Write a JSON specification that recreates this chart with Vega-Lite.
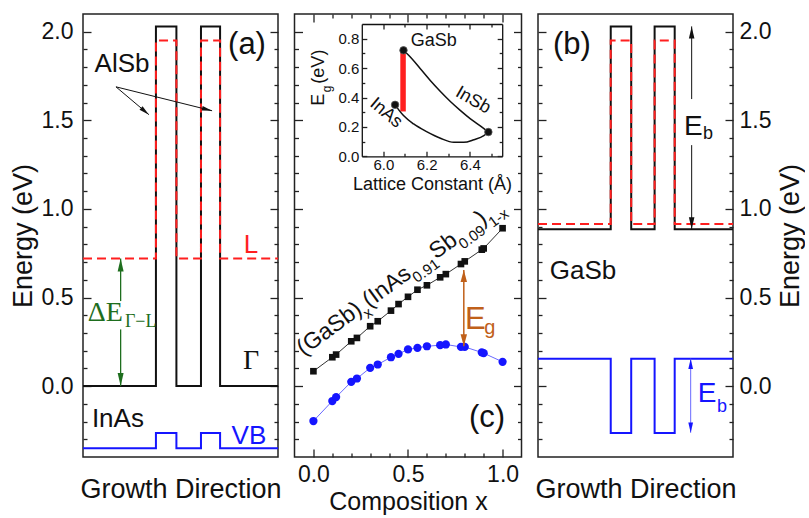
{
"$schema":"https://vega.github.io/schema/vega-lite/v6.json",
"background":"white",
"padding":{"left":8,"top":12,"right":0,"bottom":0},
"bounds":"flush",
"spacing":16.5,
"config":{
 "font":"Liberation Sans",
 "view":{"stroke":"#222","strokeWidth":1.5},
 "axis":{"domain":false,"grid":false,"tickColor":"#222","tickWidth":1.3,"labelColor":"#111","titleColor":"#111","titleFontWeight":"normal","labelOverlap":false,"labelFlush":false,"labelFont":"Liberation Sans","titleFont":"Liberation Sans"}
},
"hconcat":[
{
"width":195,"height":443,
"data":{"values":[
{"s":"G","i":0,"x":0,"y":0},{"s":"G","i":1,"x":37.4,"y":0},{"s":"G","i":2,"x":37.4,"y":2.03},{"s":"G","i":3,"x":47.9,"y":2.03},{"s":"G","i":4,"x":47.9,"y":0},{"s":"G","i":5,"x":60.5,"y":0},{"s":"G","i":6,"x":60.5,"y":2.03},{"s":"G","i":7,"x":70.3,"y":2.03},{"s":"G","i":8,"x":70.3,"y":0},{"s":"G","i":9,"x":100,"y":0},
{"s":"L","i":0,"x":0,"y":0.72},{"s":"L","i":1,"x":37.4,"y":0.72},{"s":"L","i":2,"x":37.4,"y":1.95},{"s":"L","i":3,"x":47.9,"y":1.95},{"s":"L","i":4,"x":47.9,"y":0.72},{"s":"L","i":5,"x":60.5,"y":0.72},{"s":"L","i":6,"x":60.5,"y":1.95},{"s":"L","i":7,"x":70.3,"y":1.95},{"s":"L","i":8,"x":70.3,"y":0.72},{"s":"L","i":9,"x":100,"y":0.72},
{"s":"V","i":0,"x":0,"y":-0.35},{"s":"V","i":1,"x":37.4,"y":-0.35},{"s":"V","i":2,"x":37.4,"y":-0.265},{"s":"V","i":3,"x":47.9,"y":-0.265},{"s":"V","i":4,"x":47.9,"y":-0.35},{"s":"V","i":5,"x":60.5,"y":-0.35},{"s":"V","i":6,"x":60.5,"y":-0.265},{"s":"V","i":7,"x":70.3,"y":-0.265},{"s":"V","i":8,"x":70.3,"y":-0.35},{"s":"V","i":9,"x":100,"y":-0.35}
]},
"resolve":{"axis":{"x":"independent","y":"independent"}},
"layer":[
 {"transform":[{"filter":"datum.s==='G'"}],
  "mark":{"type":"line","color":"#111","strokeWidth":2},
  "encoding":{
   "x":{"field":"x","type":"quantitative","scale":{"domain":[0,100],"nice":false,"zero":false},"axis":{"orient":"bottom","ticks":false,"labels":false,"title":"Growth Direction","titleFontSize":27,"titlePadding":19}},
   "y":{"field":"y","type":"quantitative","scale":{"domain":[-0.4,2.1],"nice":false,"zero":false},"axis":{"orient":"left","values":[-0.3,-0.2,-0.1,0,0.1,0.2,0.3,0.4,0.5,0.6,0.7,0.8,0.9,1,1.1,1.2,1.3,1.4,1.5,1.6,1.7,1.8,1.9,2],"format":".1f","labelExpr":"abs(datum.value*2-round(datum.value*2))<0.01 ? datum.label : ''","tickSize":{"condition":{"test":"abs(datum.value*2-round(datum.value*2))<0.01","value":-8},"value":-4},"labelPadding":18,"labelFontSize":23,"title":"Energy (eV)","titleFontSize":27,"titlePadding":4}},
   "order":{"field":"i","type":"quantitative"}}},
 {"transform":[{"filter":"datum.s==='L'"}],
  "mark":{"type":"line","color":"#ff1f1f","strokeWidth":2,"strokeDash":[9,5]},
  "encoding":{
   "x":{"field":"x","type":"quantitative","scale":{"domain":[0,100],"nice":false,"zero":false},"axis":null},
   "y":{"field":"y","type":"quantitative","scale":{"domain":[-0.4,2.1],"nice":false,"zero":false},"axis":{"orient":"right","values":[-0.3,-0.2,-0.1,0,0.1,0.2,0.3,0.4,0.5,0.6,0.7,0.8,0.9,1,1.1,1.2,1.3,1.4,1.5,1.6,1.7,1.8,1.9,2],"labels":false,"tickSize":{"condition":{"test":"abs(datum.value*2-round(datum.value*2))<0.01","value":-8},"value":-4},"title":null}},
   "order":{"field":"i","type":"quantitative"}}},
 {"transform":[{"filter":"datum.s==='V'"}],
  "mark":{"type":"line","color":"#1515ff","strokeWidth":2},
  "encoding":{
   "x":{"field":"x","type":"quantitative","scale":{"domain":[0,100],"nice":false,"zero":false},"axis":null},
   "y":{"field":"y","type":"quantitative","scale":{"domain":[-0.4,2.1],"nice":false,"zero":false},"axis":null},
   "order":{"field":"i","type":"quantitative"}}},
 {"data":{"values":[{"x":16.9,"y":1.689,"x2":33.8,"y2":1.532},{"x":16.9,"y":1.689,"x2":66.2,"y2":1.554}]},
  "mark":{"type":"rule","color":"#111","strokeWidth":1},
  "encoding":{"x":{"field":"x","type":"quantitative","axis":null},"y":{"field":"y","type":"quantitative","axis":null},"x2":{"field":"x2"},"y2":{"field":"y2"}}},
 {"data":{"values":[{"x":33.8,"y":1.532}]},
  "mark":{"type":"point","shape":"M0,0L-0.3,1.3L0.3,1.3Z","filled":true,"size":250,"angle":130,"color":"#111","opacity":1,"strokeWidth":0},
  "encoding":{"x":{"field":"x","type":"quantitative","axis":null},"y":{"field":"y","type":"quantitative","axis":null}}},
 {"data":{"values":[{"x":66.2,"y":1.554}]},
  "mark":{"type":"point","shape":"M0,0L-0.3,1.3L0.3,1.3Z","filled":true,"size":250,"angle":104,"color":"#111","opacity":1,"strokeWidth":0},
  "encoding":{"x":{"field":"x","type":"quantitative","axis":null},"y":{"field":"y","type":"quantitative","axis":null}}},
 {"data":{"values":[{"x":19.3,"y":0.48,"y2":0.72},{"x":19.3,"y":0.32,"y2":0}]},
  "mark":{"type":"rule","color":"#1e6e1e","strokeWidth":1.3},
  "encoding":{"x":{"field":"x","type":"quantitative","axis":null},"y":{"field":"y","type":"quantitative","axis":null},"y2":{"field":"y2"}}},
 {"data":{"values":[{"x":19.3,"y":0.72}]},
  "mark":{"type":"point","shape":"M0,0L-0.3,1.3L0.3,1.3Z","filled":true,"size":400,"angle":0,"color":"#1e6e1e","opacity":1,"strokeWidth":0},
  "encoding":{"x":{"field":"x","type":"quantitative","axis":null},"y":{"field":"y","type":"quantitative","axis":null}}},
 {"data":{"values":[{"x":19.3,"y":0}]},
  "mark":{"type":"point","shape":"M0,0L-0.3,1.3L0.3,1.3Z","filled":true,"size":400,"angle":180,"color":"#1e6e1e","opacity":1,"strokeWidth":0},
  "encoding":{"x":{"field":"x","type":"quantitative","axis":null},"y":{"field":"y","type":"quantitative","axis":null}}},
 {"data":{"values":[{"x":20,"y":1.819,"t":"AlSb"},{"x":17.9,"y":-0.186,"t":"InAs"}]},
  "mark":{"type":"text","fontSize":26,"color":"#111"},
  "encoding":{"x":{"field":"x","type":"quantitative","axis":null},"y":{"field":"y","type":"quantitative","axis":null},"text":{"field":"t","type":"nominal"}}},
 {"data":{"values":[{"x":84.1,"y":1.926,"t":"(a)"}]},
  "mark":{"type":"text","fontSize":31,"color":"#111"},
  "encoding":{"x":{"field":"x","type":"quantitative","axis":null},"y":{"field":"y","type":"quantitative","axis":null},"text":{"field":"t","type":"nominal"}}},
 {"data":{"values":[{"x":86.2,"y":0.794,"t":"L"}]},
  "mark":{"type":"text","fontSize":26,"color":"#ff1f1f"},
  "encoding":{"x":{"field":"x","type":"quantitative","axis":null},"y":{"field":"y","type":"quantitative","axis":null},"text":{"field":"t","type":"nominal"}}},
 {"data":{"values":[{"x":85.1,"y":-0.282,"t":"VB"}]},
  "mark":{"type":"text","fontSize":26,"color":"#1515ff"},
  "encoding":{"x":{"field":"x","type":"quantitative","axis":null},"y":{"field":"y","type":"quantitative","axis":null},"text":{"field":"t","type":"nominal"}}},
 {"data":{"values":[{"x":86.2,"y":0.141,"t":"Γ"}]},
  "mark":{"type":"text","fontSize":28,"font":"Liberation Serif","color":"#111"},
  "encoding":{"x":{"field":"x","type":"quantitative","axis":null},"y":{"field":"y","type":"quantitative","axis":null},"text":{"field":"t","type":"nominal"}}},
 {"data":{"values":[{"x":11.4,"y":0.411,"t":"ΔE"}]},
  "mark":{"type":"text","fontSize":28,"font":"Liberation Serif","color":"#1e6e1e"},
  "encoding":{"x":{"field":"x","type":"quantitative","axis":null},"y":{"field":"y","type":"quantitative","axis":null},"text":{"field":"t","type":"nominal"}}},
 {"data":{"values":[{"x":29.6,"y":0.364,"t":"Γ−L"}]},
  "mark":{"type":"text","fontSize":18,"font":"Liberation Serif","color":"#1e6e1e"},
  "encoding":{"x":{"field":"x","type":"quantitative","axis":null},"y":{"field":"y","type":"quantitative","axis":null},"text":{"field":"t","type":"nominal"}}}
]
},
{
"width":227,"height":443,
"resolve":{"scale":{"x":"independent","y":"independent"},"axis":{"x":"independent","y":"independent"}},
"layer":[
 {
 "data":{"values":[
 {"s":"k","x":0,"y":0.084},{"s":"k","x":0.1,"y":0.163},{"s":"k","x":0.12,"y":0.178},{"s":"k","x":0.2,"y":0.253},{"s":"k","x":0.23,"y":0.272},{"s":"k","x":0.3,"y":0.338},{"s":"k","x":0.34,"y":0.366},{"s":"k","x":0.41,"y":0.426},{"s":"k","x":0.45,"y":0.463},{"s":"k","x":0.5,"y":0.504},{"s":"k","x":0.55,"y":0.544},{"s":"k","x":0.6,"y":0.569},{"s":"k","x":0.67,"y":0.614},{"s":"k","x":0.7,"y":0.632},{"s":"k","x":0.78,"y":0.689},{"s":"k","x":0.8,"y":0.704},{"s":"k","x":0.89,"y":0.77},{"s":"k","x":0.9,"y":0.777},{"s":"k","x":1,"y":0.891},
 {"s":"b","x":0,"y":-0.197},{"s":"b","x":0.1,"y":-0.084},{"s":"b","x":0.12,"y":-0.062},{"s":"b","x":0.2,"y":0.024},{"s":"b","x":0.23,"y":0.043},{"s":"b","x":0.3,"y":0.103},{"s":"b","x":0.34,"y":0.122},{"s":"b","x":0.41,"y":0.163},{"s":"b","x":0.45,"y":0.182},{"s":"b","x":0.5,"y":0.207},{"s":"b","x":0.55,"y":0.216},{"s":"b","x":0.6,"y":0.225},{"s":"b","x":0.67,"y":0.231},{"s":"b","x":0.7,"y":0.235},{"s":"b","x":0.78,"y":0.221},{"s":"b","x":0.8,"y":0.221},{"s":"b","x":0.89,"y":0.19},{"s":"b","x":0.9,"y":0.186},{"s":"b","x":1,"y":0.137}
 ]},
 "resolve":{"axis":{"x":"independent","y":"independent"}},
 "layer":[
  {"transform":[{"filter":"datum.s==='k'"}],
   "mark":{"type":"line","color":"#333","strokeWidth":1},
   "encoding":{
    "x":{"field":"x","type":"quantitative","scale":{"domain":[-0.1,1.1],"nice":false,"zero":false},"axis":{"orient":"bottom","values":[0,0.1,0.2,0.3,0.4,0.5,0.6,0.7,0.8,0.9,1],"format":".1f","labelExpr":"abs(datum.value*2-round(datum.value*2))<0.01 ? datum.label : ''","tickSize":{"condition":{"test":"abs(datum.value*2-round(datum.value*2))<0.01","value":-8},"value":-4},"labelPadding":14,"labelFontSize":23,"title":"Composition x","titleFontSize":25,"titlePadding":-1}},
    "y":{"field":"y","type":"quantitative","scale":{"domain":[-0.4,2.1],"nice":false,"zero":false},"axis":{"orient":"left","values":[-0.3,-0.2,-0.1,0,0.1,0.2,0.3,0.4,0.5,0.6,0.7,0.8,0.9,1,1.1,1.2,1.3,1.4,1.5,1.6,1.7,1.8,1.9,2],"labels":false,"tickSize":{"condition":{"test":"abs(datum.value*2-round(datum.value*2))<0.01","value":-8},"value":-4},"title":null}}}},
  {"transform":[{"filter":"datum.s==='b'"}],
   "mark":{"type":"line","color":"#6a6aff","strokeWidth":1},
   "encoding":{
    "x":{"field":"x","type":"quantitative","scale":{"domain":[-0.1,1.1],"nice":false,"zero":false},"axis":{"orient":"top","values":[0,0.1,0.2,0.3,0.4,0.5,0.6,0.7,0.8,0.9,1],"labels":false,"tickSize":{"condition":{"test":"abs(datum.value*2-round(datum.value*2))<0.01","value":-8},"value":-4},"title":null}},
    "y":{"field":"y","type":"quantitative","scale":{"domain":[-0.4,2.1],"nice":false,"zero":false},"axis":{"orient":"right","values":[-0.3,-0.2,-0.1,0,0.1,0.2,0.3,0.4,0.5,0.6,0.7,0.8,0.9,1,1.1,1.2,1.3,1.4,1.5,1.6,1.7,1.8,1.9,2],"labels":false,"tickSize":{"condition":{"test":"abs(datum.value*2-round(datum.value*2))<0.01","value":-8},"value":-4},"title":null}}}},
  {"transform":[{"filter":"datum.s==='k'"}],
   "mark":{"type":"square","size":44,"color":"#111","opacity":1},
   "encoding":{"x":{"field":"x","type":"quantitative","axis":null},"y":{"field":"y","type":"quantitative","axis":null}}},
  {"transform":[{"filter":"datum.s==='b'"}],
   "mark":{"type":"circle","size":68,"color":"#1515ff","opacity":1},
   "encoding":{"x":{"field":"x","type":"quantitative","axis":null},"y":{"field":"y","type":"quantitative","axis":null}}},
  {"data":{"values":[{"x":0.795,"y":0.655,"y2":0.225}]},
   "mark":{"type":"rule","color":"#c0601a","strokeWidth":1.5},
   "encoding":{"x":{"field":"x","type":"quantitative","axis":null},"y":{"field":"y","type":"quantitative","axis":null},"y2":{"field":"y2"}}},
  {"data":{"values":[{"x":0.795,"y":0.655}]},
   "mark":{"type":"point","shape":"M0,0L-0.35,1.3L0.35,1.3Z","filled":true,"size":340,"angle":0,"color":"#c0601a","opacity":1,"strokeWidth":0},
   "encoding":{"x":{"field":"x","type":"quantitative","axis":null},"y":{"field":"y","type":"quantitative","axis":null}}},
  {"data":{"values":[{"x":0.795,"y":0.225}]},
   "mark":{"type":"point","shape":"M0,0L-0.35,1.3L0.35,1.3Z","filled":true,"size":340,"angle":180,"color":"#c0601a","opacity":1,"strokeWidth":0},
   "encoding":{"x":{"field":"x","type":"quantitative","axis":null},"y":{"field":"y","type":"quantitative","axis":null}}},
  {"data":{"values":[{"x":0.856,"y":0.375,"t":"E"}]},
   "mark":{"type":"text","fontSize":31,"color":"#c0601a"},
   "encoding":{"x":{"field":"x","type":"quantitative","axis":null},"y":{"field":"y","type":"quantitative","axis":null},"text":{"field":"t","type":"nominal"}}},
  {"data":{"values":[{"x":0.932,"y":0.328,"t":"g"}]},
   "mark":{"type":"text","fontSize":20,"color":"#c0601a"},
   "encoding":{"x":{"field":"x","type":"quantitative","axis":null},"y":{"field":"y","type":"quantitative","axis":null},"text":{"field":"t","type":"nominal"}}},
  {"data":{"values":[{"x":0.918,"y":-0.18,"t":"(c)"}]},
   "mark":{"type":"text","fontSize":31,"color":"#111"},
   "encoding":{"x":{"field":"x","type":"quantitative","axis":null},"y":{"field":"y","type":"quantitative","axis":null},"text":{"field":"t","type":"nominal"}}},
  {"data":{"values":[{"x":-0.0526,"y":0.169,"t":"(GaSb)"},{"x":0.295,"y":0.439,"t":"(InAs"},{"x":0.648,"y":0.713,"t":"Sb"},{"x":0.892,"y":0.903,"t":")"}]},
   "mark":{"type":"text","fontSize":23,"angle":324,"align":"left","baseline":"alphabetic","color":"#111"},
   "encoding":{"x":{"field":"x","type":"quantitative","axis":null},"y":{"field":"y","type":"quantitative","axis":null},"text":{"field":"t","type":"nominal"}}},
  {"data":{"values":[{"x":0.287,"y":0.378,"t":"x"},{"x":0.548,"y":0.58,"t":"0.91"},{"x":0.792,"y":0.77,"t":"0.09"},{"x":0.949,"y":0.892,"t":"1-x"}]},
   "mark":{"type":"text","fontSize":15,"angle":324,"align":"left","baseline":"alphabetic","color":"#111"},
   "encoding":{"x":{"field":"x","type":"quantitative","axis":null},"y":{"field":"y","type":"quantitative","axis":null},"text":{"field":"t","type":"nominal"}}}
 ]},
 {
 "resolve":{"axis":{"x":"independent","y":"independent"}},
 "layer":[
  {"data":{"values":[{"x":6.091,"y":0.305,"y2":0.72}]},
   "mark":{"type":"rule","color":"#ff1f1f","strokeWidth":5.5},
   "encoding":{
    "x":{"field":"x","type":"quantitative","scale":{"domain":[5.9,6.55],"nice":false,"zero":false,"range":[67.3,207.7]},"axis":{"orient":"bottom","offset":-300.7,"values":[6,6.1,6.2,6.3,6.4,6.5],"format":".1f","labelExpr":"abs(datum.value*5-round(datum.value*5))<0.01 ? datum.label : ''","tickSize":{"condition":{"test":"abs(datum.value*5-round(datum.value*5))<0.01","value":-5},"value":-3},"labelPadding":6,"labelFontSize":15,"title":"Lattice Constant (Å)","titleFontSize":18,"titlePadding":1,"domain":true,"domainColor":"#111","domainWidth":1.3}},
    "y":{"field":"y","type":"quantitative","scale":{"domain":[0,0.9],"nice":false,"zero":false,"range":[142.3,10]},"axis":{"orient":"left","offset":-67.3,"values":[0,0.1,0.2,0.3,0.4,0.5,0.6,0.7,0.8],"format":".1f","labelExpr":"abs(datum.value*5-round(datum.value*5))<0.01 ? datum.label : ''","tickSize":{"condition":{"test":"abs(datum.value*5-round(datum.value*5))<0.01","value":-5},"value":-3},"labelPadding":8,"labelFontSize":15,"title":null,"domain":true,"domainColor":"#111","domainWidth":1.3}},
    "y2":{"field":"y2"}}},
  {"data":{"values":[{"x":6.093,"y":0.721},{"x":6.132,"y":0.664},{"x":6.171,"y":0.596},{"x":6.217,"y":0.516},{"x":6.264,"y":0.441},{"x":6.31,"y":0.373},{"x":6.357,"y":0.311},{"x":6.403,"y":0.255},{"x":6.45,"y":0.205},{"x":6.486,"y":0.165}]},
   "mark":{"type":"line","color":"#111","strokeWidth":1.5,"interpolate":"monotone"},
   "encoding":{
    "x":{"field":"x","type":"quantitative","scale":{"domain":[5.9,6.55],"nice":false,"zero":false,"range":[67.3,207.7]},"axis":{"orient":"top","offset":-10,"values":[6,6.1,6.2,6.3,6.4,6.5],"labels":false,"tickSize":{"condition":{"test":"abs(datum.value*5-round(datum.value*5))<0.01","value":-5},"value":-3},"title":null,"domain":true,"domainColor":"#111","domainWidth":1.3}},
    "y":{"field":"y","type":"quantitative","scale":{"domain":[0,0.9],"nice":false,"zero":false,"range":[142.3,10]},"axis":{"orient":"right","offset":-19.3,"values":[0,0.1,0.2,0.3,0.4,0.5,0.6,0.7,0.8],"labels":false,"tickSize":{"condition":{"test":"abs(datum.value*5-round(datum.value*5))<0.01","value":-5},"value":-3},"title":null,"domain":true,"domainColor":"#111","domainWidth":1.3}}}},
  {"data":{"values":[{"x":6.054,"y":0.35},{"x":6.093,"y":0.277},{"x":6.14,"y":0.22},{"x":6.2,"y":0.168},{"x":6.264,"y":0.123},{"x":6.326,"y":0.095},{"x":6.372,"y":0.095},{"x":6.419,"y":0.113},{"x":6.465,"y":0.14},{"x":6.486,"y":0.165}]},
   "mark":{"type":"line","color":"#111","strokeWidth":1.5,"interpolate":"monotone"},
   "encoding":{
    "x":{"field":"x","type":"quantitative","scale":{"domain":[5.9,6.55],"nice":false,"zero":false,"range":[67.3,207.7]},"axis":null},
    "y":{"field":"y","type":"quantitative","scale":{"domain":[0,0.9],"nice":false,"zero":false,"range":[142.3,10]},"axis":null}}},
  {"data":{"values":[{"x":6.093,"y":0.721,"t":"GaSb"},{"x":6.054,"y":0.35,"t":"InAs"},{"x":6.486,"y":0.165,"t":"InSb"}]},
   "mark":{"type":"circle","size":56,"color":"#111","opacity":1,"stroke":"#555","strokeWidth":0.8},
   "encoding":{
    "x":{"field":"x","type":"quantitative","scale":{"domain":[5.9,6.55],"nice":false,"zero":false,"range":[67.3,207.7]},"axis":null},
    "y":{"field":"y","type":"quantitative","scale":{"domain":[0,0.9],"nice":false,"zero":false,"range":[142.3,10]},"axis":null}}},
  {"data":{"values":[{"x":6.233,"y":0.782,"t":"GaSb"}]},
   "mark":{"type":"text","fontSize":18,"color":"#111"},
   "encoding":{
    "x":{"field":"x","type":"quantitative","scale":{"domain":[5.9,6.55],"nice":false,"zero":false,"range":[67.3,207.7]},"axis":null},
    "y":{"field":"y","type":"quantitative","scale":{"domain":[0,0.9],"nice":false,"zero":false,"range":[142.3,10]},"axis":null},
    "text":{"field":"t","type":"nominal"}}},
  {"data":{"values":[{"x":6.415,"y":0.38,"t":"InSb"}]},
   "mark":{"type":"text","fontSize":18,"angle":30,"color":"#111"},
   "encoding":{
    "x":{"field":"x","type":"quantitative","scale":{"domain":[5.9,6.55],"nice":false,"zero":false,"range":[67.3,207.7]},"axis":null},
    "y":{"field":"y","type":"quantitative","scale":{"domain":[0,0.9],"nice":false,"zero":false,"range":[142.3,10]},"axis":null},
    "text":{"field":"t","type":"nominal"}}},
  {"data":{"values":[{"x":6.012,"y":0.294,"t":"InAs"}]},
   "mark":{"type":"text","fontSize":18,"angle":40,"color":"#111"},
   "encoding":{
    "x":{"field":"x","type":"quantitative","scale":{"domain":[5.9,6.55],"nice":false,"zero":false,"range":[67.3,207.7]},"axis":null},
    "y":{"field":"y","type":"quantitative","scale":{"domain":[0,0.9],"nice":false,"zero":false,"range":[142.3,10]},"axis":null},
    "text":{"field":"t","type":"nominal"}}},
  {"data":{"values":[{"x":5.7,"y":0.384,"t":"E"},{"x":5.7,"y":0.61,"t":"(eV)"}]},
   "mark":{"type":"text","fontSize":18,"angle":270,"color":"#111"},
   "encoding":{
    "x":{"field":"x","type":"quantitative","scale":{"domain":[5.9,6.55],"nice":false,"zero":false,"range":[67.3,207.7]},"axis":null},
    "y":{"field":"y","type":"quantitative","scale":{"domain":[0,0.9],"nice":false,"zero":false,"range":[142.3,10]},"axis":null},
    "text":{"field":"t","type":"nominal"}}},
  {"data":{"values":[{"x":5.741,"y":0.459,"t":"g"}]},
   "mark":{"type":"text","fontSize":12,"angle":270,"color":"#111"},
   "encoding":{
    "x":{"field":"x","type":"quantitative","scale":{"domain":[5.9,6.55],"nice":false,"zero":false,"range":[67.3,207.7]},"axis":null},
    "y":{"field":"y","type":"quantitative","scale":{"domain":[0,0.9],"nice":false,"zero":false,"range":[142.3,10]},"axis":null},
    "text":{"field":"t","type":"nominal"}}}
 ]}
]
},
{
"width":195,"height":443,
"data":{"values":[
{"s":"G","i":0,"x":0,"y":0.885},{"s":"G","i":1,"x":37.3,"y":0.885},{"s":"G","i":2,"x":37.3,"y":2.03},{"s":"G","i":3,"x":47.8,"y":2.03},{"s":"G","i":4,"x":47.8,"y":0.885},{"s":"G","i":5,"x":59.8,"y":0.885},{"s":"G","i":6,"x":59.8,"y":2.03},{"s":"G","i":7,"x":70.1,"y":2.03},{"s":"G","i":8,"x":70.1,"y":0.885},{"s":"G","i":9,"x":100,"y":0.885},
{"s":"L","i":0,"x":0,"y":0.915},{"s":"L","i":1,"x":37.3,"y":0.915},{"s":"L","i":2,"x":37.3,"y":1.95},{"s":"L","i":3,"x":47.8,"y":1.95},{"s":"L","i":4,"x":47.8,"y":0.915},{"s":"L","i":5,"x":59.8,"y":0.915},{"s":"L","i":6,"x":59.8,"y":1.95},{"s":"L","i":7,"x":70.1,"y":1.95},{"s":"L","i":8,"x":70.1,"y":0.915},{"s":"L","i":9,"x":100,"y":0.915},
{"s":"V","i":0,"x":0,"y":0.155},{"s":"V","i":1,"x":37.3,"y":0.155},{"s":"V","i":2,"x":37.3,"y":-0.265},{"s":"V","i":3,"x":47.8,"y":-0.265},{"s":"V","i":4,"x":47.8,"y":0.155},{"s":"V","i":5,"x":59.8,"y":0.155},{"s":"V","i":6,"x":59.8,"y":-0.265},{"s":"V","i":7,"x":70.1,"y":-0.265},{"s":"V","i":8,"x":70.1,"y":0.155},{"s":"V","i":9,"x":100,"y":0.155}
]},
"resolve":{"axis":{"x":"independent","y":"independent"}},
"layer":[
 {"transform":[{"filter":"datum.s==='G'"}],
  "mark":{"type":"line","color":"#111","strokeWidth":2},
  "encoding":{
   "x":{"field":"x","type":"quantitative","scale":{"domain":[0,100],"nice":false,"zero":false},"axis":{"orient":"bottom","ticks":false,"labels":false,"title":"Growth Direction","titleFontSize":27,"titlePadding":19}},
   "y":{"field":"y","type":"quantitative","scale":{"domain":[-0.4,2.1],"nice":false,"zero":false},"axis":{"orient":"left","values":[-0.3,-0.2,-0.1,0,0.1,0.2,0.3,0.4,0.5,0.6,0.7,0.8,0.9,1,1.1,1.2,1.3,1.4,1.5,1.6,1.7,1.8,1.9,2],"labels":false,"tickSize":{"condition":{"test":"abs(datum.value*2-round(datum.value*2))<0.01","value":-8},"value":-4},"title":null}},
   "order":{"field":"i","type":"quantitative"}}},
 {"transform":[{"filter":"datum.s==='L'"}],
  "mark":{"type":"line","color":"#ff1f1f","strokeWidth":2,"strokeDash":[9,5]},
  "encoding":{
   "x":{"field":"x","type":"quantitative","scale":{"domain":[0,100],"nice":false,"zero":false},"axis":null},
   "y":{"field":"y","type":"quantitative","scale":{"domain":[-0.4,2.1],"nice":false,"zero":false},"axis":{"orient":"right","values":[-0.3,-0.2,-0.1,0,0.1,0.2,0.3,0.4,0.5,0.6,0.7,0.8,0.9,1,1.1,1.2,1.3,1.4,1.5,1.6,1.7,1.8,1.9,2],"format":".1f","labelExpr":"abs(datum.value*2-round(datum.value*2))<0.01 ? datum.label : ''","tickSize":{"condition":{"test":"abs(datum.value*2-round(datum.value*2))<0.01","value":-8},"value":-4},"labelPadding":14,"labelFontSize":23,"title":"Energy (eV)","titleFontSize":27,"titleAngle":270,"titleBaseline":"top","titlePadding":7}},
   "order":{"field":"i","type":"quantitative"}}},
 {"transform":[{"filter":"datum.s==='V'"}],
  "mark":{"type":"line","color":"#1515ff","strokeWidth":2},
  "encoding":{
   "x":{"field":"x","type":"quantitative","scale":{"domain":[0,100],"nice":false,"zero":false},"axis":null},
   "y":{"field":"y","type":"quantitative","scale":{"domain":[-0.4,2.1],"nice":false,"zero":false},"axis":null},
   "order":{"field":"i","type":"quantitative"}}},
 {"data":{"values":[{"x":78.8,"y":1.62,"y2":2.03},{"x":78.8,"y":1.36,"y2":0.885}]},
  "mark":{"type":"rule","color":"#111","strokeWidth":1},
  "encoding":{"x":{"field":"x","type":"quantitative","axis":null},"y":{"field":"y","type":"quantitative","axis":null},"y2":{"field":"y2"}}},
 {"data":{"values":[{"x":78.8,"y":2.03}]},
  "mark":{"type":"point","shape":"M0,0L-0.3,1.3L0.3,1.3Z","filled":true,"size":340,"angle":0,"color":"#111","opacity":1,"strokeWidth":0},
  "encoding":{"x":{"field":"x","type":"quantitative","axis":null},"y":{"field":"y","type":"quantitative","axis":null}}},
 {"data":{"values":[{"x":78.8,"y":0.885}]},
  "mark":{"type":"point","shape":"M0,0L-0.3,1.3L0.3,1.3Z","filled":true,"size":340,"angle":180,"color":"#111","opacity":1,"strokeWidth":0},
  "encoding":{"x":{"field":"x","type":"quantitative","axis":null},"y":{"field":"y","type":"quantitative","axis":null}}},
 {"data":{"values":[{"x":78.3,"y":0.155,"y2":-0.263}]},
  "mark":{"type":"rule","color":"#6a6aff","strokeWidth":1},
  "encoding":{"x":{"field":"x","type":"quantitative","axis":null},"y":{"field":"y","type":"quantitative","axis":null},"y2":{"field":"y2"}}},
 {"data":{"values":[{"x":78.3,"y":0.155}]},
  "mark":{"type":"point","shape":"M0,0L-0.3,1.3L0.3,1.3Z","filled":true,"size":250,"angle":0,"color":"#1515ff","opacity":1,"strokeWidth":0},
  "encoding":{"x":{"field":"x","type":"quantitative","axis":null},"y":{"field":"y","type":"quantitative","axis":null}}},
 {"data":{"values":[{"x":78.3,"y":-0.263}]},
  "mark":{"type":"point","shape":"M0,0L-0.3,1.3L0.3,1.3Z","filled":true,"size":250,"angle":180,"color":"#1515ff","opacity":1,"strokeWidth":0},
  "encoding":{"x":{"field":"x","type":"quantitative","axis":null},"y":{"field":"y","type":"quantitative","axis":null}}},
 {"data":{"values":[{"x":17.4,"y":1.926,"t":"(b)"}]},
  "mark":{"type":"text","fontSize":31,"color":"#111"},
  "encoding":{"x":{"field":"x","type":"quantitative","axis":null},"y":{"field":"y","type":"quantitative","axis":null},"text":{"field":"t","type":"nominal"}}},
 {"data":{"values":[{"x":23.1,"y":0.648,"t":"GaSb"}]},
  "mark":{"type":"text","fontSize":26,"color":"#111"},
  "encoding":{"x":{"field":"x","type":"quantitative","axis":null},"y":{"field":"y","type":"quantitative","axis":null},"text":{"field":"t","type":"nominal"}}},
 {"data":{"values":[{"x":79.7,"y":1.464,"t":"E"}]},
  "mark":{"type":"text","fontSize":28,"color":"#111"},
  "encoding":{"x":{"field":"x","type":"quantitative","axis":null},"y":{"field":"y","type":"quantitative","axis":null},"text":{"field":"t","type":"nominal"}}},
 {"data":{"values":[{"x":87.2,"y":1.425,"t":"b"}]},
  "mark":{"type":"text","fontSize":18,"color":"#111"},
  "encoding":{"x":{"field":"x","type":"quantitative","axis":null},"y":{"field":"y","type":"quantitative","axis":null},"text":{"field":"t","type":"nominal"}}},
 {"data":{"values":[{"x":86.7,"y":-0.043,"t":"E"}]},
  "mark":{"type":"text","fontSize":28,"color":"#1515ff"},
  "encoding":{"x":{"field":"x","type":"quantitative","axis":null},"y":{"field":"y","type":"quantitative","axis":null},"text":{"field":"t","type":"nominal"}}},
 {"data":{"values":[{"x":94.4,"y":-0.117,"t":"b"}]},
  "mark":{"type":"text","fontSize":18,"color":"#1515ff"},
  "encoding":{"x":{"field":"x","type":"quantitative","axis":null},"y":{"field":"y","type":"quantitative","axis":null},"text":{"field":"t","type":"nominal"}}}
]
}
]
}
